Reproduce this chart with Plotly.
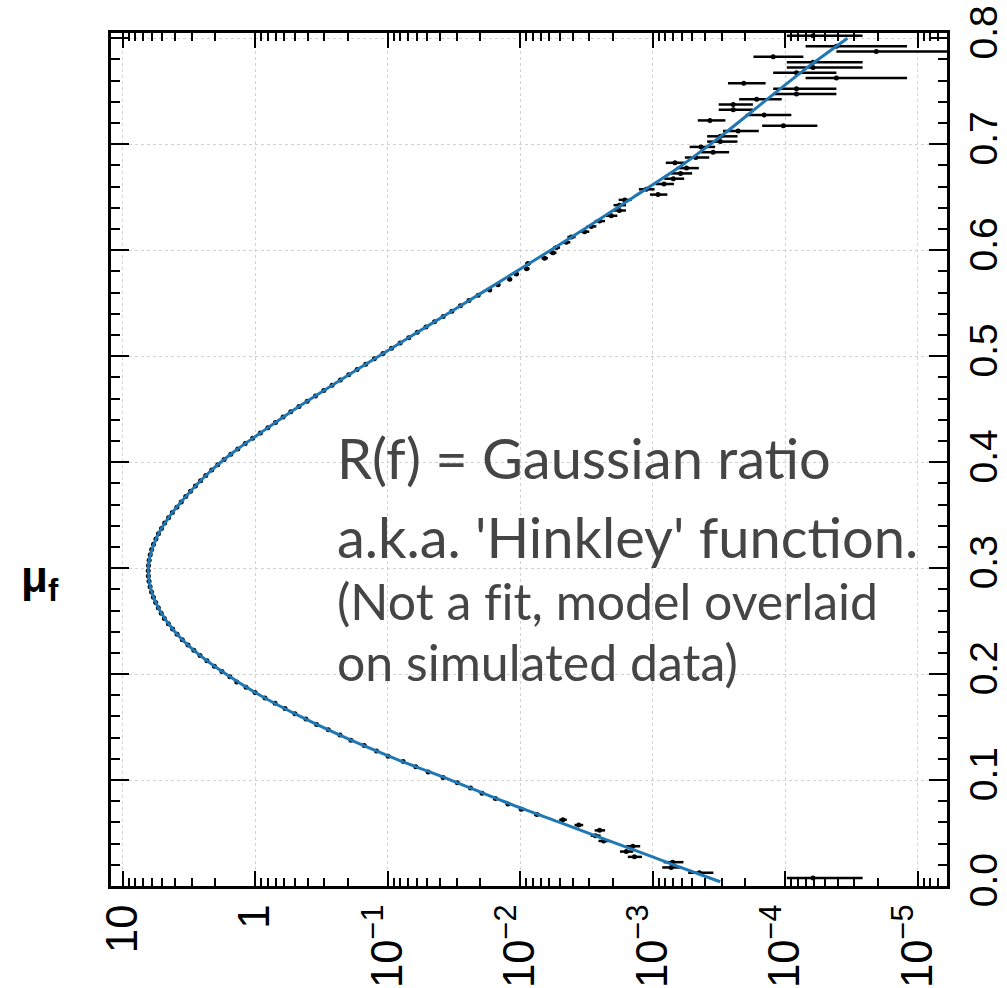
import math
import plotly.graph_objects as go

# ---------------- data ----------------
# histogram binning of mu_f
bin_low = 0.0
bin_width = 0.005
n_bins = 161
# weight of one simulated entry (Poisson errors: sqrt(N) * w)
entry_weight = 2.05e-5

# R(f) histogram contents per bin (None = empty bin)
R_data = [
    None, 6.15e-5, 4.43e-4, 7.24e-4, 7.05e-4, 1.37e-3, 1.58e-3, 1.41e-3, 2.34e-3, 2.70e-3,
    2.51e-3, 3.61e-3, 4.75e-3, 7.46e-3, 9.77e-3, 1.233e-2, 1.535e-2, 1.936e-2, 2.366e-2, 2.972e-2,
    3.81e-2, 4.94e-2, 6.12e-2, 7.62e-2, 9.89e-2, 0.1211, 0.150, 0.189, 0.2286, 0.280,
    0.343, 0.413, 0.500, 0.594, 0.706, 0.841, 1.00, 1.17, 1.374, 1.549,
    1.778, 2.028, 2.307, 2.600, 2.897, 3.206, 3.540, 3.873, 4.188, 4.508,
    4.831, 5.105, 5.370, 5.623, 5.848, 6.039, 6.194, 6.310, 6.383, 6.397,
    6.368, 6.295, 6.180, 6.026, 5.834, 5.598, 5.358, 5.082, 4.808, 4.498,
    4.207, 3.890, 3.606, 3.334, 3.069, 2.818, 2.576, 2.355, 2.123, 1.910,
    1.710, 1.524, 1.349, 1.186, 1.043, 0.912, 0.800, 0.701, 0.614, 0.537,
    0.466, 0.404, 0.350, 0.303, 0.2624, 0.227, 0.1963, 0.1698, 0.1462, 0.1259,
    0.1081, 0.0933, 0.0804, 0.0692, 0.0596, 0.0513, 0.0442, 0.0380, 0.0327, 0.0282,
    0.0243, 0.0207, 0.01694, 0.01466, 0.01197, 0.01067, 8.91e-3, 8.71e-3, 6.53e-3, 5.65e-3,
    5.32e-3, 4.48e-3, 4.10e-3, 3.26e-3, 2.90e-3, 2.51e-3, 2.05e-3, 1.78e-3, 1.78e-3, 1.62e-3,
    9.1e-4, 1.117e-3, 8.2e-4, 6.97e-4, 6.15e-4, 5.54e-4, 6.77e-4, 4.72e-4, 3.49e-4, 4.31e-4,
    3.08e-4, 3.08e-4, 2.26e-4, 1.03e-4, 3.69e-4, 1.44e-4, 2.46e-4, 2.46e-4, 1.64e-4, 8.2e-5,
    8.2e-5, 2.05e-4, 4.1e-5, 8.2e-5, 6.15e-5, 6.15e-5, 1.23e-4, 2.05e-5, 4.1e-5, None,
    6.15e-5,
]

# model curve (Hinkley / Gaussian-ratio)
curve_mu = [0.004, 0.02, 0.04, 0.06, 0.08, 0.10, 0.12, 0.14, 0.16, 0.18, 0.20, 0.22,
            0.24, 0.26, 0.28, 0.297, 0.31, 0.33, 0.35, 0.37, 0.39, 0.41, 0.43, 0.45,
            0.47, 0.50, 0.53, 0.56, 0.59, 0.62, 0.65, 0.68, 0.71, 0.74, 0.77, 0.800]
curve_R = [3.09e-4, 6.92e-4, 1.862e-3, 5.01e-3, 1.337e-2, 3.34e-2, 8.69e-2, 0.208, 0.456,
           0.917, 1.660, 2.745, 4.027, 5.236, 6.116, 6.397, 6.237, 5.478, 4.350, 3.199,
           2.236, 1.434, 0.854, 0.501, 0.282, 0.1167, 0.0476, 0.01939, 7.90e-3, 3.27e-3,
           1.396e-3, 6.03e-4, 2.88e-4, 1.445e-4, 7.20e-5, 3.38e-5]

y_tick_vals = [0.0, 0.1, 0.2, 0.3, 0.4, 0.5, 0.6, 0.7, 0.8]

note_lines = ["R(f) = Gaussian ratio", "a.k.a. 'Hinkley' function.",
              "(Not a fit, model overlaid", "on simulated data)"]

# ---------------- build figure ----------------
mu_centers = [bin_low + bin_width * (k + 0.5) for k in range(n_bins)]
pts_mu, pts_R, pts_err = [], [], []
for m, v in zip(mu_centers, R_data):
    if v is None:
        continue
    pts_mu.append(m)
    pts_R.append(v)
    pts_err.append(math.sqrt(v * entry_weight))

fig = go.Figure()
fig.add_trace(go.Scatter(
    x=pts_R, y=pts_mu, mode="markers",
    marker=dict(color="black", size=5, symbol="circle"),
    error_x=dict(type="data", array=pts_err, visible=True, color="black",
                 thickness=2.5, width=0),
    hoverinfo="skip",
))
fig.add_trace(go.Scatter(
    x=curve_R, y=curve_mu, mode="lines",
    line=dict(color="#1f77b4", width=3, shape="spline", smoothing=0.8),
    hoverinfo="skip",
))

x_tick_font = dict(family="Liberation Sans, Arial, Helvetica, sans-serif", size=35, color="black")
y_tick_font = dict(family="Liberation Sans, Arial, Helvetica, sans-serif", size=39, color="black")

fig.update_layout(
    width=1007, height=988,
    margin=dict(l=111, r=60, t=33, b=102),
    plot_bgcolor="white", paper_bgcolor="white",
    showlegend=False,
    xaxis=dict(
        type="log", range=[1.087, -5.222], dtick=1, exponentformat="power",
        tickangle=-90, tickfont=x_tick_font, automargin=False,
        ticks="inside", ticklen=15, tickwidth=1.5, tickcolor="black",
        showline=True, linewidth=2.5, linecolor="black", mirror="ticks",
        showgrid=True, gridcolor="#d2d2d2", griddash="dot", gridwidth=1,
        zeroline=False, ticklabelstandoff=0,
        minor=dict(dtick="D1", ticks="inside", ticklen=8, tickwidth=1.5,
                   tickcolor="black", showgrid=False),
    ),
    yaxis=dict(
        side="right", range=[0, 0.805], tickvals=y_tick_vals, tickformat=".1f",
        tickangle=-90, tickfont=y_tick_font, automargin=False,
        ticks="inside", ticklen=18, tickwidth=1.5, tickcolor="black",
        showline=True, linewidth=2.5, linecolor="black", mirror="ticks",
        showgrid=True, gridcolor="#d2d2d2", griddash="dot", gridwidth=1,
        zeroline=False, ticklabelstandoff=0,
        minor=dict(dtick=0.02, tick0=0, ticks="inside", ticklen=9, tickwidth=1.5,
                   tickcolor="black", showgrid=False),
    ),
)

# axis title mu_f (left side, horizontal)
fig.add_annotation(xref="paper", yref="paper", x=-0.085, y=0.359,
                   text="<b>μ<sub>f</sub></b>", showarrow=False,
                   font=dict(family="Liberation Sans, Arial, sans-serif", size=44, color="black"),
                   xanchor="center", yanchor="middle")

note_font_big = dict(family="Lato, sans-serif", size=56, color="#454545")
note_font_small = dict(family="Lato, sans-serif", size=50, color="#454545")
note_y = [0.5018, 0.4103, 0.334, 0.2626]
for i, (txt, yy) in enumerate(zip(note_lines, note_y)):
    fig.add_annotation(xref="paper", yref="paper", x=0.268, y=yy,
                       text=txt.replace("fi", "f\u200ci"),
                       showarrow=False, xanchor="left", yanchor="middle",
                       font=note_font_big if i < 2 else note_font_small)

fig.write_html("out.html")
